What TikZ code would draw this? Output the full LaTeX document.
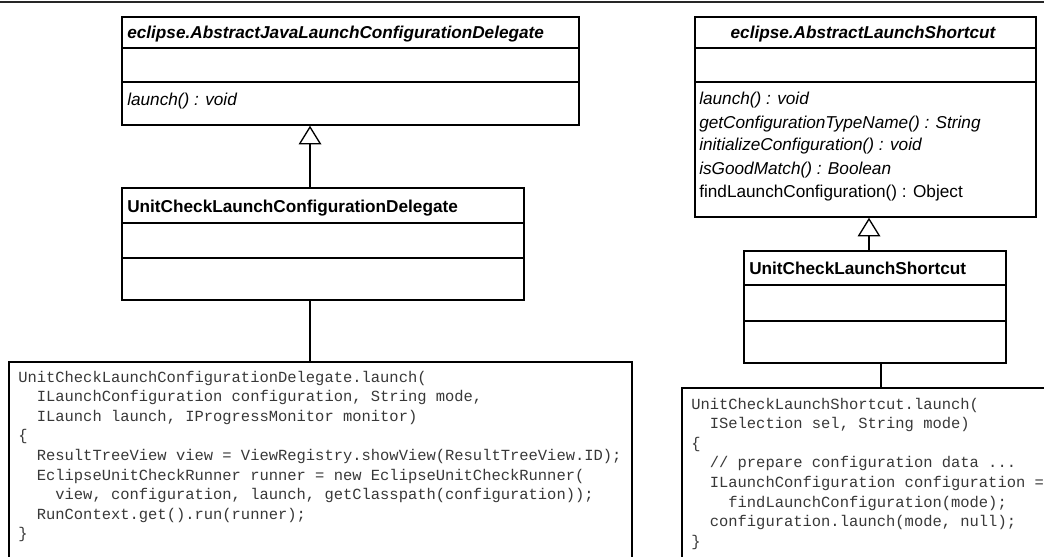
\documentclass[tikz,border=0pt]{standalone}
\usepackage{fontspec}
\setmainfont{Liberation Sans}
\newfontfamily\codefont{Liberation Mono}
\usetikzlibrary{arrows.meta,fit}
\newcommand\codeellipsis{...}

\begin{document}
\begin{tikzpicture}[x=0.75pt,y=-0.75pt,
  box/.style={draw, line width=1.1pt, inner sep=0pt},
  sep/.style={line width=1.1pt},
  uml/.style={font=\fontsize{12.9}{15}\selectfont, anchor=base west, inner sep=0pt},
  umlit/.style={uml, font=\fontsize{12.9}{15}\selectfont\itshape},
  umltitle/.style={uml, font=\fontsize{12.9}{15}\selectfont\bfseries},
  umlabs/.style={uml, font=\fontsize{12.9}{15}\selectfont\bfseries\itshape},
  code/.style={font=\codefont\fontsize{11.6}{14}\selectfont, text=black!78, anchor=base west, inner sep=0pt},
  inherit/.style={line width=1pt, -{Triangle[open, length=14pt, width=17pt, line width=1pt]}},
  link/.style={line width=1pt}]
\clip (0,0) rectangle (1044,556);
\fill[white] (0,0) rectangle (1044,556);
\draw[line width=1.5pt, black!85] (0,2.5) -- (1044,2.5);

% ---------- left column: launch configuration delegate ----------
\node[box, fit={(122,17) (579,125)}] (A) {};
\draw[sep] (122,48) -- (579,48);
\draw[sep] (122,82) -- (579,82);
\node[umlabs] (Atitle) at (127,39) {eclipse.AbstractJavaLaunchConfigurationDelegate};
\node[umlit] (Am1) at (127,106) {launch() : void};

\node[box, fit={(122,188) (524,300)}] (B) {};
\draw[sep] (122,223) -- (524,223);
\draw[sep] (122,258) -- (524,258);
\node[umltitle] (Btitle) at (127,212) {UnitCheckLaunchConfigurationDelegate};

\coordinate (lx) at (310,0);
\draw[inherit] (B.north -| lx) -- (A.south -| lx);

\node[box, fit={(9,362) (632,580)}] (CL) {};
\draw[link] (B.south -| lx) -- (CL.north -| lx);

\foreach \t [count=\i] in {
  {UnitCheckLaunchConfigurationDelegate.launch(},
  {\phantom{xx}ILaunchConfiguration configuration, String mode,},
  {\phantom{xx}ILaunch launch, IProgressMonitor monitor)},
  {\{},
  {\phantom{xx}ResultTreeView view = ViewRegistry.showView(ResultTreeView.ID);},
  {\phantom{xx}EclipseUnitCheckRunner runner = new EclipseUnitCheckRunner(},
  {\phantom{xxxx}view, configuration, launch, getClasspath(configuration));},
  {\phantom{xx}RunContext.get().run(runner);},
  {\}}
} \node[code] (dl\i) at (18, {382+19.6*(\i-1)}) {\t};

% ---------- right column: launch shortcut ----------
\node[box, fit={(695,17) (1036,217)}] (C) {};
\draw[sep] (695,48) -- (1036,48);
\draw[sep] (695,82) -- (1036,82);
\node[umlabs, anchor=base] (Ctitle) at (863,39) {eclipse.AbstractLaunchShortcut};
\node[umlit] (Cm1) at (699,105) {launch() : void};
\node[umlit] (Cm2) at (699,128) {getConfigurationTypeName() : String};
\node[umlit] (Cm3) at (699,151) {initializeConfiguration() : void};
\node[umlit] (Cm4) at (699,174) {isGoodMatch() : Boolean};
\node[uml]   (Cm5) at (699,197) {findLaunchConfiguration() : Object};

\node[box, fit={(744,251) (1006,363)}] (D) {};
\draw[sep] (744,285) -- (1006,285);
\draw[sep] (744,321) -- (1006,321);
\node[umltitle] (Dtitle) at (749,274) {UnitCheckLaunchShortcut};

\coordinate (rx) at (869,0);
\draw[inherit] (D.north -| rx) -- (C.south -| rx);

\node[box, fit={(682,388) (1070,580)}] (CR) {};
\coordinate (rx2) at (881,0);
\draw[link] (D.south -| rx2) -- (CR.north -| rx2);

\foreach \t [count=\i] in {
  {UnitCheckLaunchShortcut.launch(},
  {\phantom{xx}ISelection sel, String mode)},
  {\{},
  {\phantom{xx}// prepare configuration data \codeellipsis},
  {\phantom{xx}ILaunchConfiguration configuration =},
  {\phantom{xxxx}findLaunchConfiguration(mode);},
  {\phantom{xx}configuration.launch(mode, null);},
  {\}}
} \node[code] (sl\i) at (691, {409+19.6*(\i-1)}) {\t};
\end{tikzpicture}
\end{document}
